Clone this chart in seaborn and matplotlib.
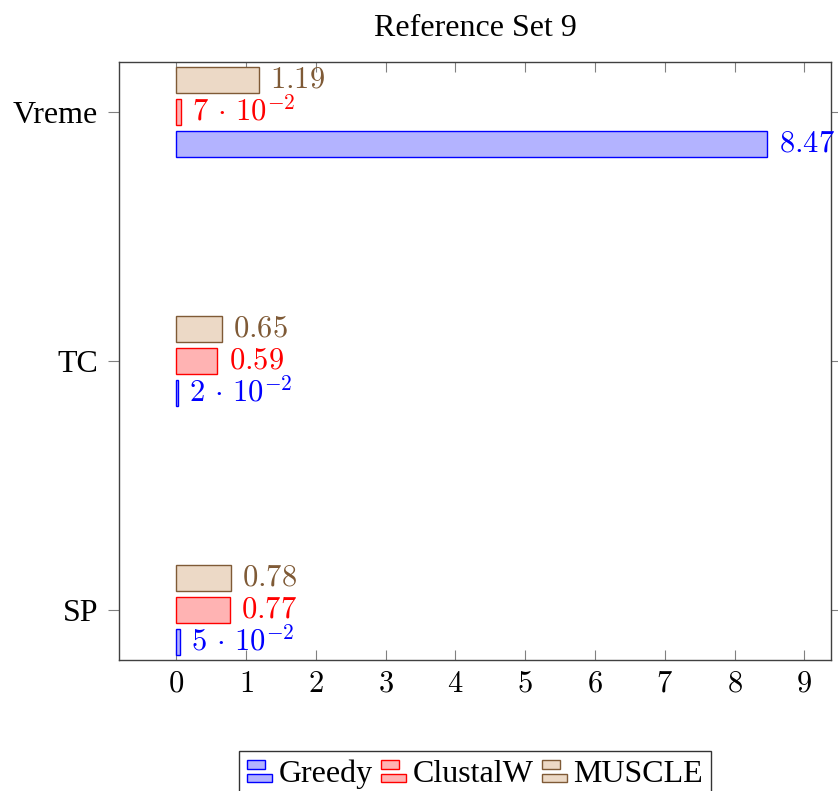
import matplotlib
matplotlib.use("Agg")
import matplotlib.pyplot as plt
from matplotlib.patches import Rectangle
from matplotlib.legend_handler import HandlerBase
import seaborn as sns
import pandas as pd

# Measured results per metric and aligner
metrics = ["Vreme", "TC", "SP"]
methods = ["Greedy", "ClustalW", "MUSCLE"]
greedy = [8.47, 0.02, 0.05]
clustalw = [0.07, 0.59, 0.77]
muscle = [1.19, 0.65, 0.78]
x_ticks = [0, 1, 2, 3, 4, 5, 6, 7, 8, 9]

edge_colors = {"Greedy": "#0000FF", "ClustalW": "#FF0000", "MUSCLE": "#7F5A36"}
fill_colors = {"Greedy": "#B3B3FF", "ClustalW": "#FFB3B3", "MUSCLE": "#ECD9C6"}

df = pd.DataFrame({
    "metric": metrics * 3,
    "method": ["Greedy"] * 3 + ["ClustalW"] * 3 + ["MUSCLE"] * 3,
    "value": greedy + clustalw + muscle,
})

sns.set_theme(style="white")
plt.rcParams["font.family"] = ["Liberation Serif", "DejaVu Serif"]
plt.rcParams["mathtext.fontset"] = "cm"
plt.rcParams["text.color"] = "black"
plt.rcParams["xtick.labelcolor"] = "black"
plt.rcParams["ytick.labelcolor"] = "black"

TEXT_SIZE = 23
MATH_SIZE = 22

fig = plt.figure(figsize=(8.38, 7.91), dpi=100)
ax = fig.add_axes([0.142, 0.1656, 0.8496, 0.756])

stack_order = ["MUSCLE", "ClustalW", "Greedy"]
sns.barplot(data=df, y="metric", x="value", hue="method", order=metrics,
            hue_order=stack_order, palette=fill_colors, saturation=1,
            width=0.385, gap=0.18, orient="h", legend=False, ax=ax,
            linewidth=1.0)


def fmt_value(v):
    if v < 0.1:
        exp = 0
        m = v
        while m < 1:
            m *= 10
            exp -= 1
        return r"$%d\,\cdot\,10^{%d}$" % (round(m), exp)
    return r"$%.2f$" % v


for container, name in zip(ax.containers, stack_order):
    for bar in container:
        bar.set_edgecolor(edge_colors[name])
        bar.set_linewidth(1.0)
    vals = df[df.method == name].set_index("metric").loc[metrics, "value"]
    labels = ax.bar_label(container, labels=[fmt_value(v) for v in vals],
                          padding=8, color=edge_colors[name],
                          fontsize=MATH_SIZE)
    for t in labels:
        t.set_clip_on(False)
        t.set_zorder(5)

ax.set_xlim(-0.82, 9.38)
ax.set_ylim(2.2, -0.2)
ax.set_xticks(x_ticks)
ax.set_xticklabels([f"${t}$" for t in x_ticks], fontsize=MATH_SIZE)
ax.set_ylabel("")
ax.set_xlabel("")
ax.tick_params(axis="x", direction="in", length=7, width=0.8, color="#808080",
               top=True, bottom=True, pad=7, labelcolor="black")
ax.tick_params(axis="y", direction="out", length=8, width=0.8, color="#808080",
               left=True, right=True, labelsize=TEXT_SIZE, pad=7,
               labelcolor="black")
for s in ax.spines.values():
    s.set_color("#404040")
    s.set_linewidth(1.0)
    s.set_visible(True)

ax.set_title("Reference Set 9", fontsize=TEXT_SIZE, pad=19, color="black")


class TwoBarHandler(HandlerBase):
    def create_artists(self, legend, orig_handle, xdescent, ydescent,
                       width, height, fontsize, trans):
        fc = orig_handle.get_facecolor()
        ec = orig_handle.get_edgecolor()
        h = height * 0.38
        y0 = -ydescent - height * 0.02
        r1 = Rectangle((-xdescent, y0), width, h, facecolor=fc,
                       edgecolor=ec, lw=1.0, transform=trans)
        r2 = Rectangle((-xdescent, y0 + height * 0.62), width * 0.72, h,
                       facecolor=fc, edgecolor=ec, lw=1.0, transform=trans)
        return [r1, r2]


handles = [Rectangle((0, 0), 1, 1, facecolor=fill_colors[m],
                     edgecolor=edge_colors[m]) for m in methods]
axes_mid = 0.142 + 0.8496 / 2
leg = fig.legend(handles, methods, loc="upper center",
                 bbox_to_anchor=(axes_mid, 0.05), ncol=3, frameon=True,
                 fancybox=False, edgecolor="black", fontsize=TEXT_SIZE,
                 handler_map={Rectangle: TwoBarHandler()},
                 handlelength=0.8, handleheight=0.7, handletextpad=0.2,
                 columnspacing=0.25, borderpad=0.25, borderaxespad=0,
                 labelcolor="black")
leg.get_frame().set_linewidth(1.0)

fig.savefig("out.png", dpi=100)
